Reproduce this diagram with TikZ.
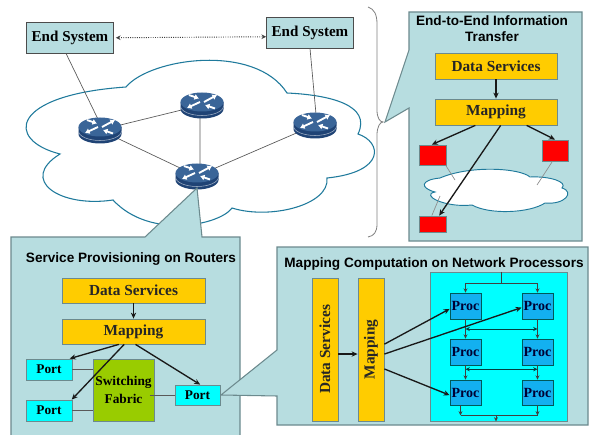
\documentclass[tikz,border=0pt]{standalone}
\usepackage{fontspec}
\setmainfont{Liberation Serif}
\setsansfont{Liberation Sans}
\usetikzlibrary{arrows.meta,calc,shadings}
\definecolor{panel}{HTML}{B7DDE0}
\definecolor{panelline}{HTML}{6C8A8E}
\definecolor{ybox}{HTML}{FFCC00}
\definecolor{cloudline}{HTML}{1F7A9C}
\definecolor{procfill}{HTML}{13B0F0}
\definecolor{cyanbox}{HTML}{00FFFF}
\definecolor{greenbox}{HTML}{99CC00}
\definecolor{redbox}{HTML}{FF0000}
\definecolor{rtop}{HTML}{3A6598}
\definecolor{rside}{HTML}{1F4375}
\newcommand{\bx}[7][]{%
  \pgfmathsetmacro{\cxx}{(#3+#5)/2}\pgfmathsetmacro{\cyy}{(#4+#6)/2}%
  \pgfmathsetmacro{\ww}{(#5-#3)*0.75}\pgfmathsetmacro{\hh}{(#6-#4)*0.75}%
  \node[#1,minimum width=\ww pt,minimum height=\hh pt] (#2) at (\cxx,\cyy) {#7};}
\tikzset{
  x=0.75pt,y=-0.75pt,
  basebox/.style={draw=panelline,line width=0.6pt,inner sep=0pt,font=\rmfamily\bfseries\fontsize{11.3}{12}\selectfont},
  endsys/.style={basebox,fill=panel,draw=black!70},
  yellow box/.style={basebox,fill=ybox,font=\rmfamily\bfseries\fontsize{11.5}{13}\selectfont,text=black!85},
  red block/.style={basebox,fill=redbox},
  portbox/.style={basebox,fill=cyanbox,font=\rmfamily\bfseries\fontsize{10}{12}\selectfont},
  procbox/.style={basebox,fill=procfill,draw=teal!70!black,font=\rmfamily\bfseries\fontsize{10.5}{12}\selectfont,text=black!80!blue},
  fabric/.style={basebox,fill=greenbox,align=center,font=\rmfamily\bfseries\fontsize{10}{13}\selectfont},
  callout/.style={fill=panel,draw=panelline,line width=0.8pt,line join=miter},
  title/.style={font=\sffamily\bfseries\fontsize{10.2}{12.5}\selectfont,align=center,inner sep=0pt},
  heavy/.style={-{Stealth[length=4.5pt,width=4pt]},line width=1pt,draw=black!90},
  thin link/.style={draw=black!65,line width=0.5pt},
  grey link/.style={draw=black!45,line width=0.5pt},
  minor/.style={-{Stealth[length=3.2pt,width=3pt]},line width=0.55pt,draw=black!75},
  minorboth/.style={{Stealth[length=3.2pt,width=3pt]}-{Stealth[length=3.2pt,width=3pt]},line width=0.55pt,draw=teal!50!black},
  cloudstyle/.style={fill=white,draw=cloudline,line width=0.8pt},
  rarrow/.style={white,line width=1.4pt,-{Latex[length=3.4pt,width=4.6pt]}},
  router/.pic={
    \fill[rside] (-21.5,-3) -- (-21.5,4) arc[start angle=180,end angle=0,x radius=21.5,y radius=9.5] -- (21.5,-3) -- cycle;
    \draw[white!60!rside,line width=0.4pt] (-21.5,1) arc[start angle=180,end angle=0,x radius=21.5,y radius=9.5];
    \fill[rtop] (0,-3) ellipse[x radius=21.5,y radius=9.5];
    \draw[rarrow] (2,-3) -- (15,-10);
    \draw[rarrow] (-2,-3) -- (-15,3);
    \draw[rarrow] (-13,-10) -- (-3,-6.5);
    \draw[rarrow] (13,3.5) -- (3,0);
  }
}
\begin{document}
\begin{tikzpicture}
\useasboundingbox (0,0) rectangle (590,435);
\fill[white] (0,0) rectangle (590,435);
% main cloud
\draw[cloudstyle] (126,87) .. controls (150,58) and (255,43) .. (287,93)
  .. controls (330,95) and (372,105) .. (358,134)
  .. controls (382,142) and (386,172) .. (327,178)
  .. controls (330,205) and (270,220) .. (232,208)
  .. controls (220,225) and (150,240) .. (113,200)
  .. controls (60,208) and (18,180) .. (60,154)
  .. controls (5,140) and (10,95) .. (126,87) -- cycle;
% end systems
\bx[endsys]{es1}{26.5}{22.5}{113.5}{53}{End System\hspace{6pt}}
\bx[endsys]{es2}{266.5}{17.5}{353.5}{48}{End System\hspace{6pt}}
\draw[densely dotted,line width=0.7pt,draw=black!75,{Stealth[length=3.5pt,width=3.5pt]}-{Stealth[length=3.5pt,width=3.5pt]}] ([xshift=1.5pt]es1.east) -- ([yshift=-3pt]es2.west);
% routers
\coordinate (r1) at (100,130);
\coordinate (r2) at (202,105);
\coordinate (r3) at (315,125);
\coordinate (r4) at (197,176);
\draw[thin link] ([xshift=-3pt]es1.south) -- ([yshift=5pt]r1);
\draw[thin link] (es2.south) -- ([xshift=1.5pt]r3);
\draw[thin link] (r1) -- (r2);
\draw[thin link] (r1) -- (r4);
\draw[thin link] ([xshift=-1.5pt]r2) -- ([xshift=2.2pt]r4);
\draw[thin link] (r4) -- (r3);
\pic at (r1) {router};
\pic at (r2) {router};
\pic at (r3) {router};
\pic at (r4) {router};
% brace
\draw[draw=black!50,line width=0.6pt] (368,7) .. controls (374,9) and (377,14) .. (377,24)
  -- (377,110) .. controls (377,118) and (380,122) .. (383,122)
  .. controls (380,122) and (377,127) .. (377,135)
  -- (377,224) .. controls (377,232) and (374,236) .. (368,237);
% top right callout
\draw[callout] (385,122) -- (409,50) -- (409,12) -- (582,12) -- (582,241) -- (409,241) -- (409,108) -- cycle;
\node[title] (t1) at (492,28.5) {End-to-End Information\\Transfer};
\bx[yellow box]{a1}{435}{53}{557}{79}{Data Services}
\bx[yellow box]{a2}{435}{99}{557}{125}{Mapping}
% small cloud
\draw[cloudstyle,line width=0.7pt] (440,178) .. controls (470,165) and (520,168) .. (530,177)
  .. controls (550,176) and (568,182) .. (562,188)
  .. controls (575,192) and (565,205) .. (545,203)
  .. controls (530,213) and (490,215) .. (472,205)
  .. controls (445,208) and (420,195) .. (435,192)
  .. controls (420,188) and (420,180) .. (440,178) -- cycle;
\bx[red block]{p1}{419}{145}{446}{165}{}
\bx[red block]{p2}{542}{140}{568}{161}{}
\bx[red block]{p3}{419}{216}{446}{232}{}
\coordinate (c1) at (455,180);
\coordinate (c2) at (537,185);
\coordinate (c3) at (440,196);
\draw[grey link] ([xshift=-0.5pt]p1.south east) -- (c1);
\draw[grey link] ([xshift=-12pt]p2.south east) -- (c2);
\draw[grey link] ([xshift=-0.5pt]p3.north) -- (c3);
\draw[heavy] (a1.south) -- (a2.north);
\draw[heavy] ([xshift=-15.5pt]a2.south) -- ([xshift=-0.5pt]p1.north);
\draw[heavy] ([xshift=23pt]a2.south) -- (p2.north);
\draw[heavy] ([xshift=3.5pt]a2.south) -- ([xshift=5pt]p3.north);
% bottom left callout
\draw[callout] (197,188) -- (202,237) -- (240,237) -- (240,436) -- (11,436) -- (11,237) -- (145,237) -- cycle;
\node[title] (t2) at (131,259) {Service Provisioning on Routers};
\bx[yellow box]{b1}{62}{278}{205}{303}{Data Services}
\bx[yellow box]{b2}{62}{319}{205}{344}{Mapping}
\bx[fabric]{sw}{93}{359}{154}{421}{Switching\\Fabric}
\bx[portbox]{port1}{26}{359}{72}{380}{Port}
\bx[portbox]{port2}{26}{400}{72}{421}{Port}
% bottom right callout
\draw[callout] (221,395) -- (277,350) -- (277,247) -- (588,247) -- (588,425) -- (277,425) -- (277,396) -- cycle;
\bx[portbox]{port3}{175}{385}{220}{405}{Port}
\draw[thin link] (port1.east) -- (port1.east -| sw.west);
\draw[thin link] (port2.east) -- (port2.east -| sw.west);
\draw[thin link] ([xshift=-3.5pt]sw.east |- port3.west) -- (port3.west);
\draw[heavy] (b1.south) -- (b2.north);
\draw[heavy] ([xshift=-11pt]b2.south) -- ([xshift=-2pt]port1.north east);
\draw[heavy] ([xshift=-7pt]b2.south) -- ([xshift=-0.5pt]port2.north east);
\draw[heavy] ([xshift=1.5pt]b2.south) -- ([xshift=2pt]port3.north);
\node[title] (t3) at (434,264) {Mapping Computation on Network Processors};
\bx[yellow box]{c0}{312}{278}{338}{421}{}
\bx[yellow box]{c4}{358}{278}{384}{421}{}
\node[rotate=90,font=\rmfamily\bfseries\fontsize{11.5}{13}\selectfont,text=black!85] (c0t) at (c0) {Data Services};
\node[rotate=90,font=\rmfamily\bfseries\fontsize{11.5}{13}\selectfont,text=black!85] (c4t) at (c4) {Mapping};
\draw[heavy] ([yshift=-3.4pt]c0.east) -- ([yshift=-3.4pt]c4.west);
\bx[basebox,fill=cyanbox]{panelc}{430}{272}{567}{421}{}
\bx[procbox]{q1}{450}{293}{481}{319}{Proc}
\bx[procbox]{q2}{522}{293}{553}{319}{Proc}
\bx[procbox]{q3}{450}{339}{481}{365}{Proc}
\bx[procbox]{q4}{522}{339}{553}{365}{Proc}
\bx[procbox]{q5}{450}{380}{481}{405}{Proc}
\bx[procbox]{q6}{522}{380}{553}{405}{Proc}
\coordinate (tt) at (501,283);
\coordinate (bb) at (496,415);
\draw[line width=0.55pt,draw=black!75] (panelc.north -| tt) -- (tt);
\draw[minor] (tt) -| (q1.north);
\draw[minor] (tt) -| (q2.north);
\draw[minor] (q1.south) -- (q3.north);
\draw[minor] (q2.south) -- (q4.north);
\draw[minor] (q3.south) -- (q5.north);
\draw[minor] (q4.south) -- (q6.north);
\draw[minorboth] ($(q1.south)!0.5!(q3.north)$) -- ($(q2.south)!0.5!(q4.north)$);
\draw[minorboth] ($(q3.south)!0.27!(q5.north)$) -- ($(q4.south)!0.27!(q6.north)$);
\draw[minor] ([xshift=-3.75pt]q5.south) -- ++(0,10);
\draw[minor] (q6.south) -- ++(0,10);
\draw[line width=0.55pt,draw=black!75] ([xshift=-3.75pt,yshift=-7.5pt]q5.south) -- ([yshift=-7.5pt]q6.south);
\draw[minor] (bb) -- (bb |- panelc.south);
\draw[heavy] ([yshift=4pt]c4.east) -- ([yshift=-2.2pt]q1.west);
\draw[heavy] ([yshift=-3.4pt]c4.east) -- ([yshift=-1.2pt]q2.west);
\draw[heavy] ([yshift=-14.6pt]c4.east) -- ([yshift=-2pt]q5.west);
\end{tikzpicture}
\end{document}
